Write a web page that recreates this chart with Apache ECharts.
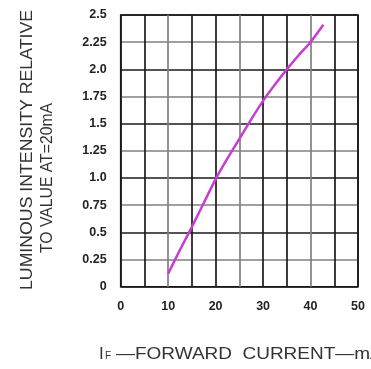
<!DOCTYPE html>
<html><head><meta charset="utf-8">
<script src="https://cdn.jsdelivr.net/npm/echarts@6/dist/echarts.min.js"></script>
<style>html,body{margin:0;padding:0;background:#fff;}#c{width:371px;height:369px;}</style>
</head><body><div id="c"></div>
<script>
const currentMA = [10, 12.5, 15, 17.5, 20, 22.5, 25, 27.5, 30, 32.5, 35, 37.5, 40, 42.7];
const relIntensity = [0.12, 0.34, 0.55, 0.77, 0.99, 1.18, 1.36, 1.54, 1.71, 1.86, 2.0, 2.13, 2.25, 2.41];
const xTickLabels = ['0','10','20','30','40','50'];
const yTickLabels = ['0','0.25','0.5','0.75','1.0','1.25','1.5','1.75','2.0','2.25','2.5'];
const yTitle1 = 'LUMINOUS INTENSITY RELATIVE';
const yTitle2 = 'TO VALUE AT=20mA';
const xTitleMain = 'I';
const xTitleSub = 'F';
const xTitleRest = '\u2014FORWARD  CURRENT\u2014mA';

const mctx = document.createElement('canvas').getContext('2d');
function sx(text, font, target){ mctx.font = font; return target / mctx.measureText(text).width; }
const TF = '17px "Liberation Sans"';
const XF = '17px "Liberation Sans"';

const chart = echarts.init(document.getElementById('c'), null, {renderer:'canvas'});
chart.setOption({
  animation:false,
  backgroundColor:'#fff',
  grid:{left:120.7, right:13, top:15, bottom:82.3, show:true, borderColor:'#1a1a1a', borderWidth:1.6, backgroundColor:'transparent'},
  xAxis:{type:'value', min:0, max:50, interval:5,
    axisLine:{show:false}, axisTick:{show:false},
    axisLabel:{margin:13, color:'#222', fontSize:12.5, fontWeight:'bold', fontFamily:'Liberation Sans', hideOverlap:false,
      formatter:function(v){ const i=v/10; return Number.isInteger(i)? xTickLabels[i] : ''; }},
    splitLine:{show:true, lineStyle:{color:['#1a1a1a','#1a1a1a','#808080'], width:1.7}}
  },
  yAxis:{type:'value', min:0, max:2.5, interval:0.25,
    axisLine:{show:false}, axisTick:{show:false},
    axisLabel:{margin:14, color:'#222', fontSize:12.5, fontWeight:'bold', fontFamily:'Liberation Sans',
      formatter:function(v){ return yTickLabels[Math.round(v/0.25)]; }},
    splitLine:{show:true, lineStyle:{color:['#1a1a1a','#808080'], width:1.7}}
  },
  series:[{type:'line', smooth:0.2, showSymbol:false,
    data: currentMA.map((x,i)=>[x, relIntensity[i]]),
    lineStyle:{color:'#c83cd2', width:2.5}}],
  graphic:[
    {type:'text', x:27, y:150, rotation:Math.PI/2, scaleX:sx(yTitle1,TF,280),
      style:{text:yTitle1, font:TF, fill:'#333', textAlign:'center', textVerticalAlign:'middle'}},
    {type:'text', x:47.5, y:178, rotation:Math.PI/2, scaleX:sx(yTitle2,TF,150),
      style:{text:yTitle2, font:TF, fill:'#333', textAlign:'center', textVerticalAlign:'middle'}},
    {type:'text', x:99, y:363, style:{text:xTitleMain, font:XF, fill:'#333', textAlign:'left', textVerticalAlign:'bottom'}},
    {type:'text', x:105, y:361, style:{text:xTitleSub, font:'10px "Liberation Sans"', fill:'#333', textAlign:'left', textVerticalAlign:'bottom'}},
    {type:'text', x:116, y:363, scaleX:sx('\u2014FORWARD  CURRENT\u2014m',XF,254),
      style:{text:xTitleRest, font:XF, fill:'#333', textAlign:'left', textVerticalAlign:'bottom'}}
  ]
});
</script></body></html>
